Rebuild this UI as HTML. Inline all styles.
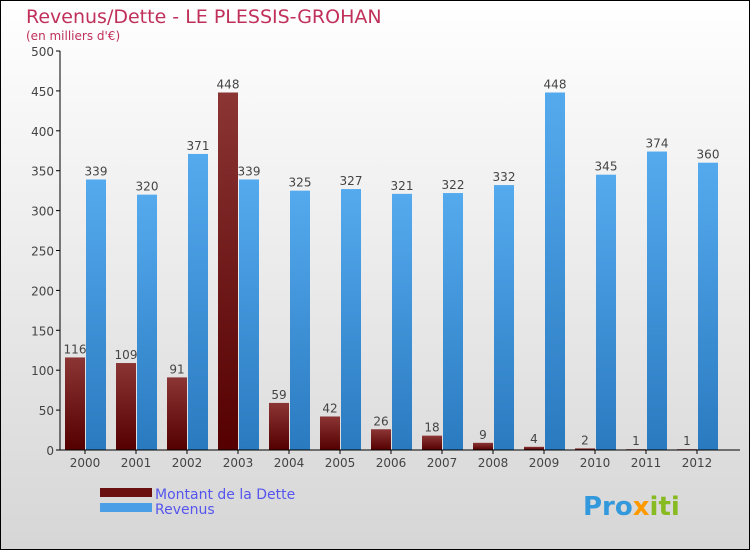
<!DOCTYPE html>
<html><head><meta charset="utf-8"><style>
body{margin:0;width:750px;height:550px;overflow:hidden;font-family:"DejaVu Sans","Liberation Sans",sans-serif}
</style></head><body>
<svg width="750" height="550" xmlns="http://www.w3.org/2000/svg" id="svg">
<defs>
<linearGradient id="bg" x1="0" y1="0" x2="0" y2="1"><stop offset="0" stop-color="#ffffff"/><stop offset="1" stop-color="#d6d6d6"/></linearGradient>
<linearGradient id="gd" x1="0" y1="0" x2="0" y2="1"><stop offset="0" stop-color="#8b3535"/><stop offset="1" stop-color="#550000"/></linearGradient>
<linearGradient id="gr" x1="0" y1="0" x2="0" y2="1"><stop offset="0" stop-color="#55aaee"/><stop offset="1" stop-color="#2a7ac0"/></linearGradient>
</defs>
<rect x="0.5" y="0.5" width="749" height="549" fill="url(#bg)" stroke="#000"/>
<text x="26" y="23" font-size="19" fill="#c0305a">Revenus/Dette - LE PLESSIS-GROHAN</text>
<text x="26" y="40" font-size="12" fill="#c0305a">(en milliers d'€)</text>
<g id="plot"></g>
<rect x="100" y="488" width="52" height="9" fill="#6a1010"/>
<rect x="100" y="503" width="52" height="9" fill="#4a9ee6"/>
<text x="155" y="499" font-size="14" fill="#5555ee">Montant de la Dette</text>
<text x="155" y="514" font-size="14" fill="#5555ee">Revenus</text>
<text x="583" y="515" font-size="26" font-weight="bold" fill="#3399dd">Pro<tspan fill="#ff9900">x</tspan><tspan fill="#88bb22">iti</tspan></text>
</svg>
<script>
const years=["2000","2001","2002","2003","2004","2005","2006","2007","2008","2009","2010","2011","2012"];
const dette=[116,109,91,448,59,42,26,18,9,4,2,1,1];
const revenus=[339,320,371,339,325,327,321,322,332,448,345,374,360];
const ticks=[0,50,100,150,200,250,300,350,400,450,500];
const NS="http://www.w3.org/2000/svg";
const g=document.getElementById('plot');
const y=v=>450-v*399/500;
const x=i=>85+i*51;
function mk(t,a,txt){const e=document.createElementNS(NS,t);for(const k in a)e.setAttribute(k,a[k]);if(txt!==undefined)e.textContent=txt;g.appendChild(e);return e;}
ticks.forEach(t=>{
 const l=mk('line',{x1:56,x2:60,y1:y(t),y2:y(t),stroke:'#000'});
 
 
 const tx=mk('text',{x:54,y:y(t)+5,'font-size':12,'text-anchor':'end',fill:'#444'},t);
 
 
});
years.forEach((yr,i)=>{
 const cx=x(i);
 const b1=mk('rect',{x:cx-20,y:y(dette[i]),width:20,height:450-y(dette[i]),fill:'url(#gd)'});
 
 
 const b2=mk('rect',{x:cx+1,y:y(revenus[i]),width:20,height:450-y(revenus[i]),fill:'url(#gr)'});
 
 
 const l1=mk('text',{x:cx-10,y:y(dette[i])-4,'font-size':12,'text-anchor':'middle',fill:'#444'},dette[i]);
 
 
 const l2=mk('text',{x:cx+11,y:y(revenus[i])-4,'font-size':12,'text-anchor':'middle',fill:'#444'},revenus[i]);
 
 
 const tk=mk('line',{x1:cx,x2:cx,y1:450,y2:454,stroke:'#000'});
 
 
 const xl=mk('text',{x:cx,y:467,'font-size':12,'text-anchor':'middle',fill:'#444'},yr);
 
 
});
const ya=mk('line',{x1:60,x2:60,y1:51,y2:450,stroke:'#000'});


const xa=mk('line',{x1:60,x2:740,y1:450,y2:450,stroke:'#000'});


</script>
</body></html>
